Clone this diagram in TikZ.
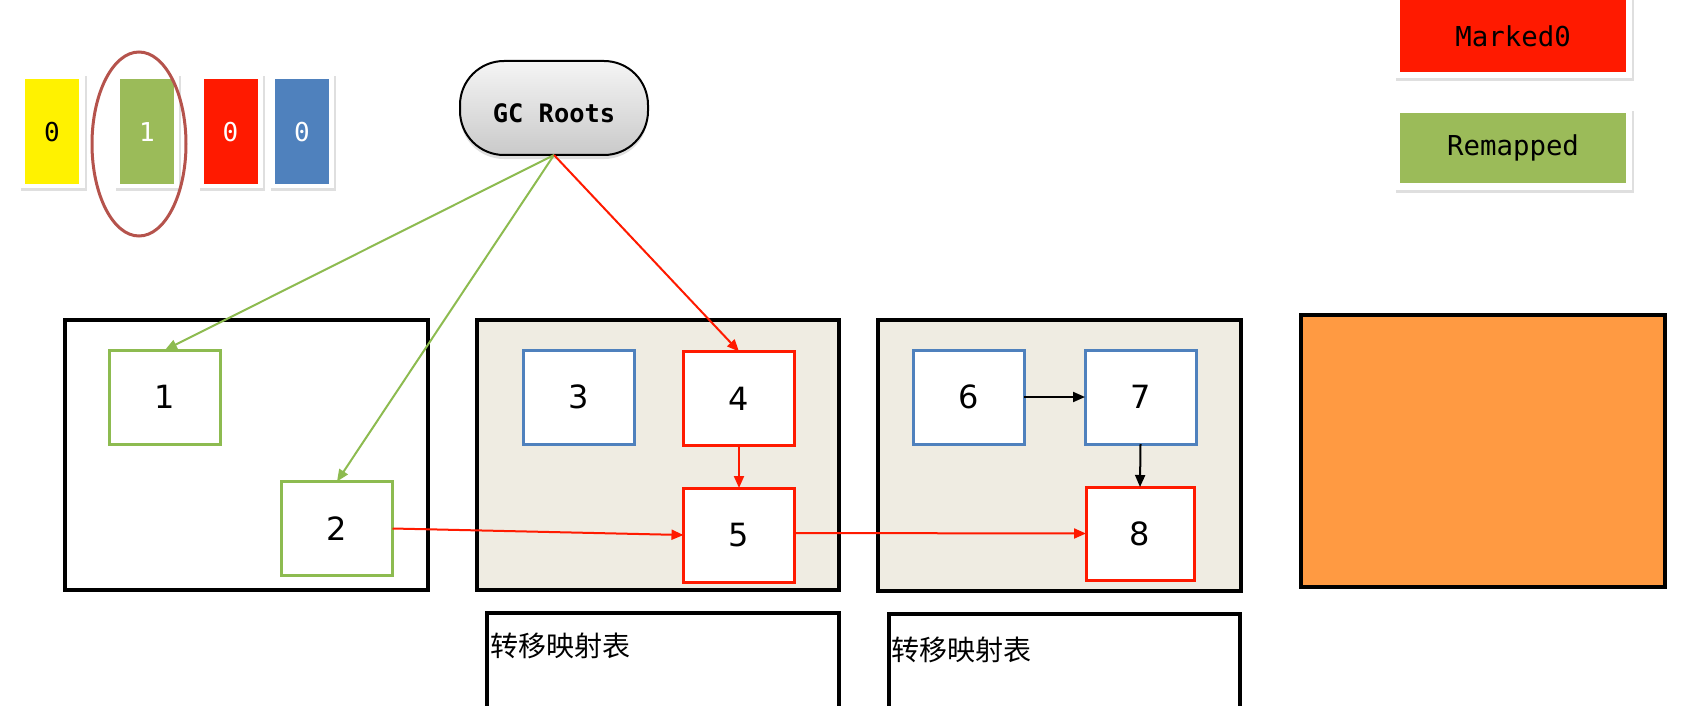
\documentclass[tikz,border=0pt]{standalone}
\usepackage{fontspec}
\setmainfont{DejaVu Sans}
\newfontfamily\monof{DejaVu Sans Mono}
\newfontfamily\cjk{Noto Sans CJK SC}
\usetikzlibrary{arrows.meta,shadows}
\definecolor{cyel}{HTML}{FFF200}
\definecolor{cgreen}{HTML}{9BBB59}
\definecolor{cred}{HTML}{FF1A00}
\definecolor{cblue}{HTML}{4F81BD}
\definecolor{lgreen}{HTML}{8DBB50}
\definecolor{beige}{HTML}{EFECE2}
\definecolor{corange}{HTML}{FF9A42}
\definecolor{ellcol}{HTML}{B5534C}
\begin{document}
\begin{tikzpicture}[x=0.5pt,y=-0.5pt,
  region/.style={draw=black,line width=2pt},
  obj/.style={draw,fill=white,line width=1.5pt,minimum width=55.5pt,minimum height=47pt,inner sep=0pt,outer sep=0pt,font=\fontsize{16}{18}\selectfont},
  gobj/.style={obj,draw=lgreen},
  robj/.style={obj,draw=cred},
  bobj/.style={obj,draw=cblue},
  arr/.style={line width=1pt,-{Triangle[length=6pt,width=5pt]}},
  garr/.style={arr,draw=lgreen,fill=lgreen},
  rarr/.style={arr,draw=cred,fill=cred},
  barr/.style={arr,draw=black,fill=black},
  cardout/.style={fill=white,drop shadow={opacity=0.25,shadow xshift=0.8pt,shadow yshift=-1.5pt}},
  cardin/.style={minimum width=27pt,minimum height=52.5pt,inner sep=0pt,outer sep=0pt,text height=10pt,text depth=0pt,font=\monof\fontsize{13}{15}\selectfont},
  legend/.style={minimum width=113pt,inner sep=0pt,outer sep=0pt,font=\monof\fontsize{13.7}{16}\selectfont},
  cjklabel/.style={anchor=west,inner sep=0pt,font=\cjk\fontsize{14}{16}\selectfont}
]
\useasboundingbox (0,0) rectangle (1681,706);
\clip (0,0) rectangle (1681,706);

% bit cards
\path[cardout] (19,73) rectangle (85,188);
\path[cardout] (114,73) rectangle (179,188);
\path[cardout] (198,73) rectangle (263,188);
\path[cardout] (269,73) rectangle (334,188);
\node[cardin,fill=cyel,text=black] (c1) at (52,131.5) {0};
\node[cardin,fill=cgreen,text=white] (c2) at (147,131.5) {1};
\node[cardin,fill=cred,text=white] (c3) at (230.5,131.5) {0};
\node[cardin,fill=cblue,text=white] (c4) at (302,131.5) {0};
\draw[ellcol,line width=1.5pt] (139,144) ellipse [x radius=47,y radius=92];

% legend
\path[cardout] (1394,-6) rectangle (1632,78);
\path[cardout] (1394,108) rectangle (1632,190);
\node[legend,fill=cred,minimum height=36pt] (m0) at (1513,36) {Marked0};
\node[legend,fill=cgreen,minimum height=35pt] (rm) at (1513,148) {Remapped};

% GC Roots
\node[draw=black,line width=1pt,rounded corners=22pt,top color=gray!8,bottom color=gray!42,
      minimum width=94pt,minimum height=47pt,inner sep=0pt,outer sep=0pt,
      text height=15pt,text depth=0pt,
      drop shadow={opacity=0.25,shadow xshift=0pt,shadow yshift=-2pt},
      font=\monof\bfseries\fontsize{12.7}{15}\selectfont] (gc) at (554,108) {GC Roots};

% regions
\draw[region] (65,320) rectangle (428,590);
\draw[region,fill=beige] (477,320) rectangle (839,590);
\draw[region,fill=beige] (878,320) rectangle (1241,591);
\draw[region,fill=corange] (1301,315) rectangle (1665,587);
\draw[region] (487,613) rectangle (839,730);
\draw[region] (889,614) rectangle (1240,730);
\node[cjklabel] (t1) at (490,646) {转移映射表};
\node[cjklabel] (t2) at (891,650) {转移映射表};

% objects
\node[gobj] (n1) at (165,397) {1};
\node[gobj] (n2) at (337,528.5) {2};
\node[bobj] (n3) at (578.5,397) {3};
\node[robj] (n4) at (739,398.5) {4};
\node[robj] (n5) at (739,535) {5};
\node[bobj] (n6) at (968.5,397) {6};
\node[bobj] (n7) at (1140.5,397) {7};
\node[robj,minimum width=54pt,minimum height=46.5pt] (n8) at (1140,533.5) {8};

% connectors
\draw[garr] (gc.south) -- (n1.north);
\draw[garr] (gc.south) -- (n2.north);
\draw[rarr] (gc.south) -- (n4.north);
\draw[rarr] (n4.south) -- (n5.north);
\draw[rarr] (n2.east) -- (n5.west);
\draw[rarr] ([yshift=1pt]n5.east) -- (n8.west);
\draw[barr] (n6.east) -- (n7.west);
\draw[barr] (n7.south) -- (n8.north);
\end{tikzpicture}
\end{document}
